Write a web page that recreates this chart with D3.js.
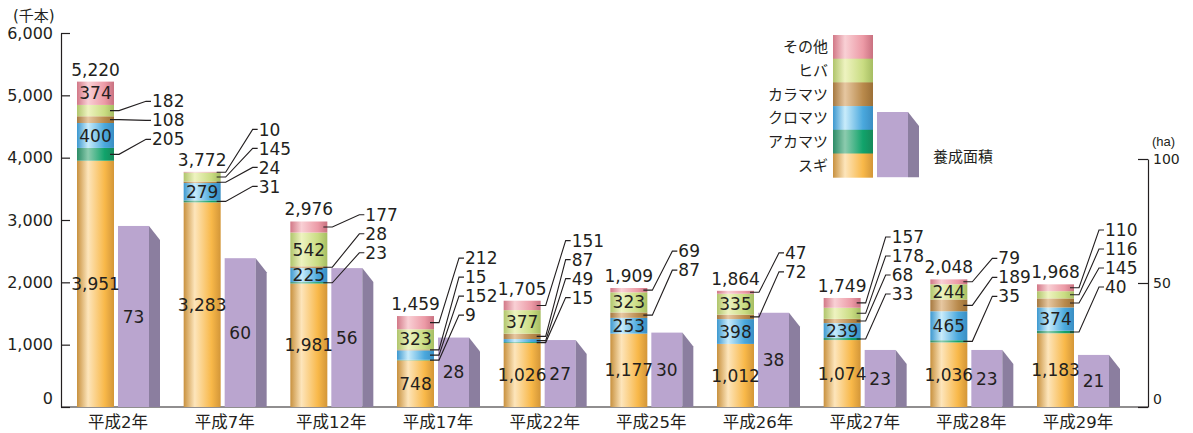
<!DOCTYPE html>
<html>
<head>
<meta charset="utf-8">
<script src="https://cdn.jsdelivr.net/npm/d3@7"></script>
<style>
  body { margin: 0; background: #fff; }
  svg text { font-family: "DejaVu Sans", "Noto Sans CJK JP", sans-serif; fill: #231f20; }
</style>
</head>
<body>
<div id="chart"></div>
<script>
// data
const years = ["平成2年", "平成7年", "平成12年", "平成17年", "平成22年", "平成25年", "平成26年", "平成27年", "平成28年", "平成29年"];
const seriesNames = ["スギ", "アカマツ", "クロマツ", "カラマツ", "ヒバ", "その他"];
const sugi      = [3951, 3283, 1981, 748, 1026, 1177, 1012, 1074, 1036, 1183];
const akamatsu  = [205, 31, 23, 9, 15, 0, 0, 33, 35, 40];
const kuromatsu = [400, 279, 225, 152, 49, 253, 398, 239, 465, 374];
const karamatsu = [108, 24, 28, 15, 87, 87, 72, 68, 189, 145];
const hiba      = [182, 145, 542, 323, 377, 323, 335, 178, 244, 116];
const others    = [374, 10, 177, 212, 151, 69, 47, 157, 79, 110];
const totals    = [5220, 3772, 2976, 1459, 1705, 1909, 1864, 1749, 2048, 1968];
const area      = [73, 60, 56, 28, 27, 30, 38, 23, 23, 21];
const leftTicks = [0, 1000, 2000, 3000, 4000, 5000, 6000];
const rightTicks = [0, 50, 100];
const areaLabel = "養成面積";

const seriesValues = [sugi, akamatsu, kuromatsu, karamatsu, hiba, others];
const rows = years.map((yr, i) => {
  const r = { year: yr };
  seriesNames.forEach((k, j) => r[k] = seriesValues[j][i]);
  return r;
});

// gradient stops per series: left edge, highlight, body, right edge
const gradColors = {
  "スギ":   ["#c8913f", "#fde5bb", "#f8b849", "#d39638"],
  "アカマツ": ["#2c8c66", "#8ccbae", "#11a36b", "#168a5a"],
  "クロマツ": ["#3d98cf", "#c9ecfb", "#4aa8dd", "#3a8ec3"],
  "カラマツ": ["#a67940", "#e6c7a1", "#b98a4c", "#9c7037"],
  "ヒバ":   ["#b0c56c", "#eef3c0", "#c9dc82", "#a6bd62"],
  "その他":  ["#d27887", "#f9d0d5", "#ec9aa6", "#c97180"]
};
const gradId = {};
seriesNames.forEach((k, j) => gradId[k] = "g" + j);

const width = 1193, height = 433;
const svg = d3.select("#chart").append("svg")
  .attr("width", width)
  .attr("height", height);

const defs = svg.append("defs");
seriesNames.forEach(k => {
  const c = gradColors[k];
  const g = defs.append("linearGradient").attr("id", gradId[k])
    .attr("x1", "0").attr("x2", "1").attr("y1", "0").attr("y2", "0");
  g.append("stop").attr("offset", "0%").attr("stop-color", c[0]);
  g.append("stop").attr("offset", "30%").attr("stop-color", c[1]);
  g.append("stop").attr("offset", "75%").attr("stop-color", c[2]);
  g.append("stop").attr("offset", "100%").attr("stop-color", c[3]);
});

const baseY = 407, axisLeftX = 61, axisRightX = 1148;
const y = d3.scaleLinear().domain([0, 6000]).range([baseY, 33]);
const y2 = d3.scaleLinear().domain([0, 100]).range([baseY, 159]);
const x = d3.scalePoint().domain(years).range([116, 1076]);

const barW = 37, barGap = 2;
const purpleW = 31, depth = 11, bevel = 14;
const purpleFront = "#baa5cf", purpleSide = "#8b7e9f";

// Axes
const gl = svg.append("g").attr("transform", `translate(${axisLeftX},0)`)
  .call(d3.axisLeft(y).tickValues(leftTicks).tickSize(-9).tickSizeOuter(0)
    .tickPadding(8).tickFormat(d3.format(",")));
const gr = svg.append("g").attr("transform", `translate(${axisRightX},0)`)
  .call(d3.axisRight(y2).tickValues(rightTicks).tickSize(-10).tickSizeOuter(0)
    .tickPadding(5));
[gl, gr].forEach(g => {
  g.selectAll("path.domain").attr("stroke", "#231f20").attr("stroke-width", 1.2);
  g.selectAll(".tick line").attr("stroke", "#231f20").attr("stroke-width", 1.2);
  g.selectAll(".tick text").style("font-size", "16px")
    .attr("dy", d => d === 0 ? "-0.25em" : "0.32em");
});
gr.selectAll(".tick text").style("font-size", "14px");

svg.append("line")
  .attr("x1", axisLeftX).attr("x2", axisRightX)
  .attr("y1", baseY).attr("y2", baseY)
  .attr("stroke", "#231f20").attr("stroke-width", 1.2);

svg.append("text").attr("x", 13).attr("y", 21).text("(千本)").style("font-size", "15px");
svg.append("text").attr("x", 1152).attr("y", 146).text("(ha)")
  .style("font-size", "13px").style("font-family", "Liberation Sans");

svg.append("g").selectAll("text").data(years).join("text")
  .attr("x", d => x(d) + 2).attr("y", 428)
  .attr("text-anchor", "middle")
  .style("font-size", "16.5px")
  .text(d => d);

// Purple area bars (drawn first so labels sit on top)
function drawPurple(g, x0, top, bottom) {
  g.append("rect").attr("x", x0).attr("y", top)
    .attr("width", purpleW).attr("height", bottom - top)
    .attr("fill", purpleFront);
  g.append("path")
    .attr("d", `M${x0 + purpleW},${top} L${x0 + purpleW + depth},${Math.min(top + bevel, bottom)} L${x0 + purpleW + depth},${bottom} L${x0 + purpleW},${bottom} Z`)
    .attr("fill", purpleSide);
}
const gArea = svg.append("g");
area.forEach((v, i) => drawPurple(gArea, x(years[i]) + barGap, y2(v), baseY));
gArea.selectAll("text").data(area).join("text")
  .attr("x", (d, i) => x(years[i]) + barGap + purpleW / 2)
  .attr("y", d => (y2(d) + baseY) / 2)
  .attr("dy", "0.36em")
  .attr("text-anchor", "middle")
  .style("font-size", "17px")
  .text(d => d);

// Stacked bars
const stacked = d3.stack().keys(seriesNames)(rows);
const gBars = svg.append("g");
gBars.selectAll("g").data(stacked).join("g")
  .attr("fill", s => `url(#${gradId[s.key]})`)
  .selectAll("rect").data(s => s.filter(d => d[1] > d[0])).join("rect")
  .attr("x", d => x(d.data.year) - barW - barGap)
  .attr("width", barW)
  .attr("y", d => y(d[1]))
  .attr("height", d => y(d[0]) - y(d[1]));

// Totals above each bar
svg.append("g").selectAll("text").data(totals).join("text")
  .attr("x", (d, i) => x(years[i]) - barGap - barW / 2)
  .attr("y", (d, i) => y(d) - 6)
  .attr("text-anchor", "middle")
  .style("font-size", "17px")
  .text(d => d3.format(",")(d));

// Segment labels: inside for big ones, leader lines for small ones
const gLab = svg.append("g");
years.forEach((yr, i) => {
  const cx = x(yr) - barGap - barW / 2;
  const barRight = x(yr) - barGap;
  const small = [];
  stacked.forEach(s => {
    const d = s[i];
    const v = d[1] - d[0];
    if (v <= 0) return;
    const mid = (y(d[0]) + y(d[1])) / 2;
    if (s.key === "スギ" || v >= 220) {
      gLab.append("text").attr("x", cx).attr("y", mid).attr("dy", "0.36em")
        .attr("text-anchor", "middle")
        .style("font-size", "17px")
        .text(d3.format(",")(v));
    } else {
      small.push({ v, mid });
    }
  });
  if (!small.length) return;
  small.reverse(); // top to bottom
  const top = y(totals[i]);
  const offset = top < 200 ? 15 : top < 250 ? 30 : 45;
  const n = small.length;
  const bottomY = small[n - 1].mid - offset;
  const textX = barRight + (top < 250 ? 38 : 31);
  small.forEach((s, k) => {
    const ly = bottomY - (n - 1 - k) * 19;
    gLab.append("path")
      .attr("d", `M${barRight - 4},${s.mid} L${barRight + 5},${s.mid} L${textX - 6},${ly} L${textX - 1},${ly}`)
      .attr("fill", "none").attr("stroke", "#231f20").attr("stroke-width", 1.1);
    gLab.append("text").attr("x", textX).attr("y", ly).attr("dy", "0.36em")
      .style("font-size", "17px")
      .text(d3.format(",")(s.v));
  });
});

// Legend
const legendNames = seriesNames.slice().reverse();
const lg = svg.append("g");
const swH = 23.7, swX = 833, swY = 35, swW = 40;
legendNames.forEach((k, j) => {
  lg.append("rect").attr("x", swX).attr("y", swY + j * swH)
    .attr("width", swW).attr("height", swH + 0.5)
    .attr("fill", `url(#${gradId[k]})`);
  lg.append("text").attr("x", swX - 5).attr("y", swY + j * swH + swH / 2)
    .attr("dy", "0.36em").attr("text-anchor", "end")
    .style("font-size", "15px").text(k);
});
const legBottom = swY + legendNames.length * swH;
drawPurple(lg, 877, 112, legBottom);
lg.append("text").attr("x", 933).attr("y", 157).attr("dy", "0.36em")
  .style("font-size", "15px").text(areaLabel);
</script>
</body>
</html>
